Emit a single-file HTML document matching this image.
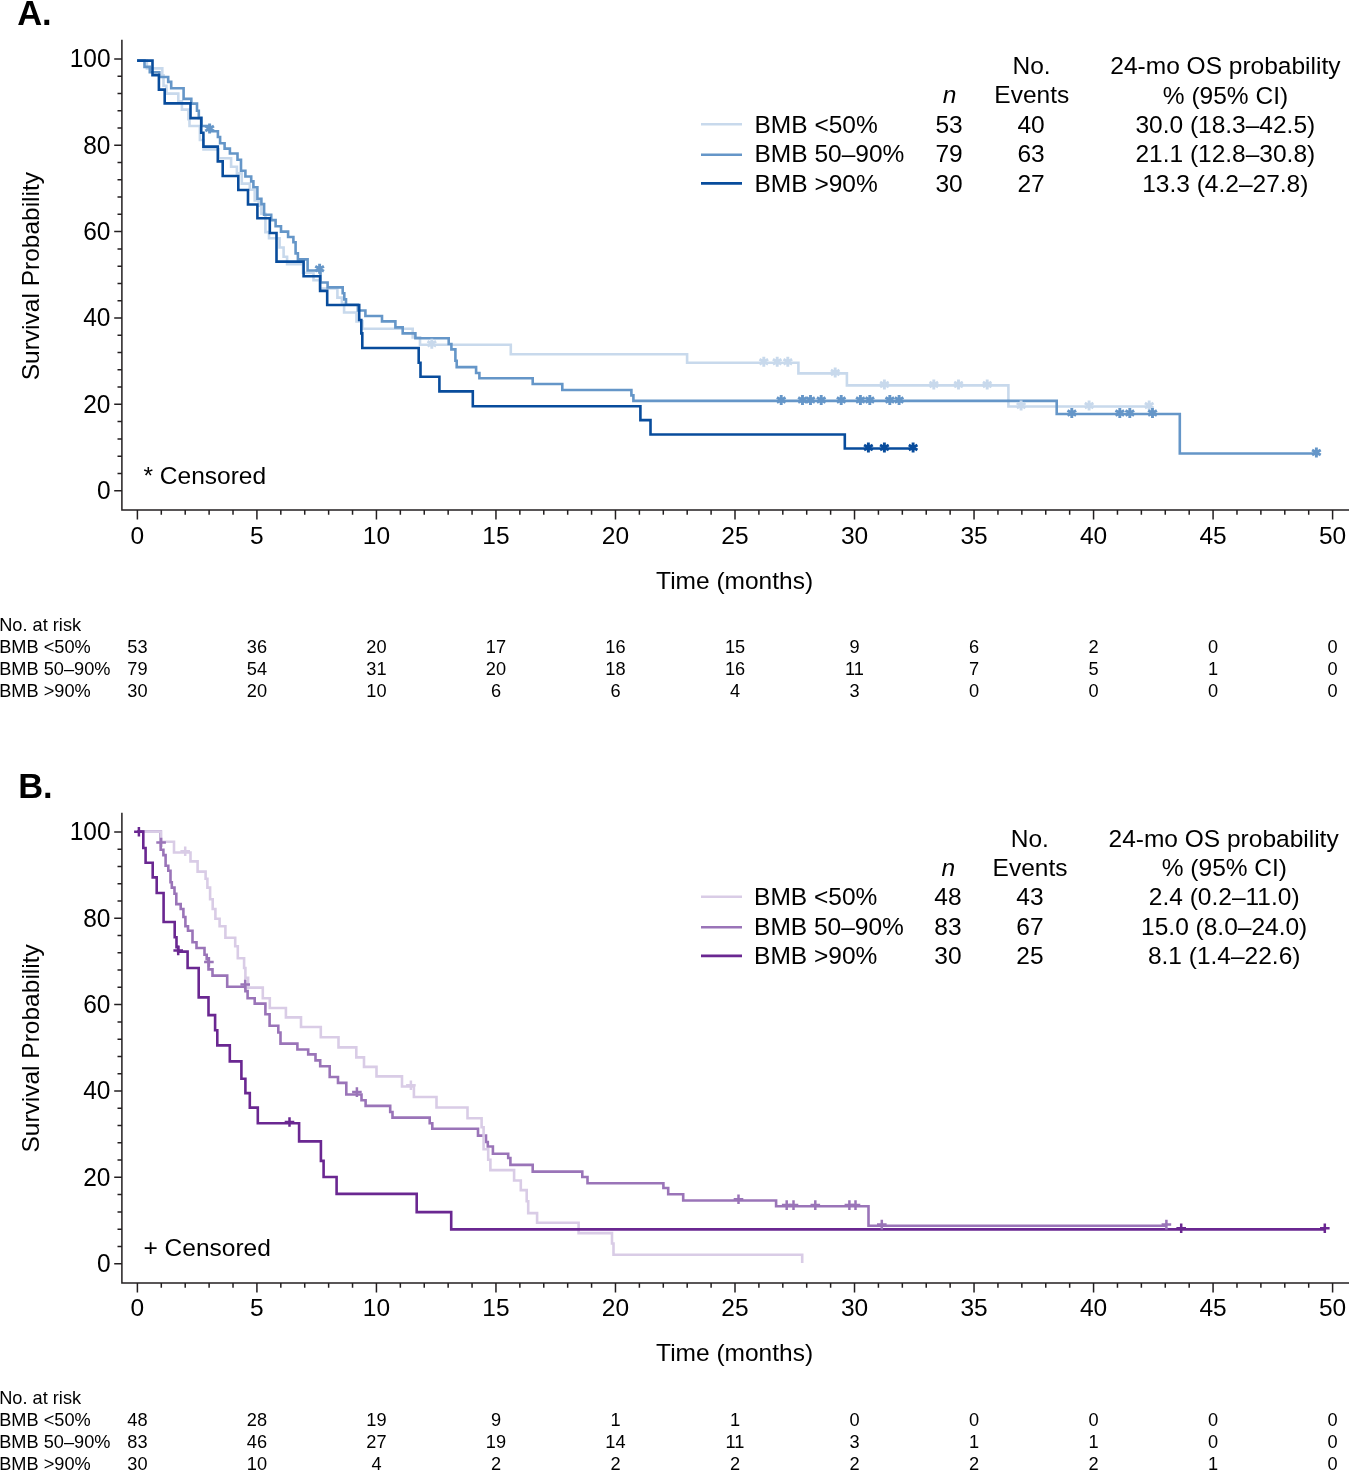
<!DOCTYPE html>
<html><head><meta charset="utf-8"><title>KM curves</title>
<style>
html,body{margin:0;padding:0;background:#fff;}
body{width:1349px;height:1471px;overflow:hidden;}
svg{display:block;will-change:transform;font-family:"Liberation Sans", sans-serif;fill:#000;}
</style></head><body>
<svg width="1349" height="1471" viewBox="0 0 1349 1471">
<rect width="1349" height="1471" fill="#fff"/>
<text x="17.2" y="24.9" font-size="34.5" text-anchor="start" font-weight="bold">A.</text>
<path d="M121.9,39.8V510H1349" stroke="#231f20" stroke-width="1.5" fill="none"/>
<path d="M114.2,490.7H122M117.5,473.43H122M117.5,456.16H122M117.5,438.88H122M117.5,421.61H122M114.2,404.34H122M117.5,387.07H122M117.5,369.8H122M117.5,352.52H122M117.5,335.25H122M114.2,317.98H122M117.5,300.71H122M117.5,283.44H122M117.5,266.16H122M117.5,248.89H122M114.2,231.62H122M117.5,214.35H122M117.5,197.08H122M117.5,179.8H122M117.5,162.53H122M114.2,145.26H122M117.5,127.99H122M117.5,110.72H122M117.5,93.44H122M117.5,76.17H122M114.2,58.9H122M137.4,510V519.5M161.3,510V514.8M185.21,510V514.8M209.11,510V514.8M233.02,510V514.8M256.92,510V519.5M280.82,510V514.8M304.73,510V514.8M328.63,510V514.8M352.54,510V514.8M376.44,510V519.5M400.34,510V514.8M424.25,510V514.8M448.15,510V514.8M472.06,510V514.8M495.96,510V519.5M519.86,510V514.8M543.77,510V514.8M567.67,510V514.8M591.58,510V514.8M615.48,510V519.5M639.38,510V514.8M663.29,510V514.8M687.19,510V514.8M711.1,510V514.8M735,510V519.5M758.9,510V514.8M782.81,510V514.8M806.71,510V514.8M830.62,510V514.8M854.52,510V519.5M878.42,510V514.8M902.33,510V514.8M926.23,510V514.8M950.14,510V514.8M974.04,510V519.5M997.94,510V514.8M1021.85,510V514.8M1045.75,510V514.8M1069.66,510V514.8M1093.56,510V519.5M1117.46,510V514.8M1141.37,510V514.8M1165.27,510V514.8M1189.18,510V514.8M1213.08,510V519.5M1236.98,510V514.8M1260.89,510V514.8M1284.79,510V514.8M1308.7,510V514.8M1332.6,510V519.5" stroke="#231f20" stroke-width="1.5" fill="none"/>
<text transform="translate(110.5,499.2) scale(1,1.09)" font-size="24.5" text-anchor="end">0</text>
<text transform="translate(110.5,412.84) scale(1,1.09)" font-size="24.5" text-anchor="end">20</text>
<text transform="translate(110.5,326.48) scale(1,1.09)" font-size="24.5" text-anchor="end">40</text>
<text transform="translate(110.5,240.12) scale(1,1.09)" font-size="24.5" text-anchor="end">60</text>
<text transform="translate(110.5,153.76) scale(1,1.09)" font-size="24.5" text-anchor="end">80</text>
<text transform="translate(110.5,67.4) scale(1,1.09)" font-size="24.5" text-anchor="end">100</text>
<text x="137.4" y="543.6" font-size="24.5" text-anchor="middle">0</text>
<text x="256.92" y="543.6" font-size="24.5" text-anchor="middle">5</text>
<text x="376.44" y="543.6" font-size="24.5" text-anchor="middle">10</text>
<text x="495.96" y="543.6" font-size="24.5" text-anchor="middle">15</text>
<text x="615.48" y="543.6" font-size="24.5" text-anchor="middle">20</text>
<text x="735" y="543.6" font-size="24.5" text-anchor="middle">25</text>
<text x="854.52" y="543.6" font-size="24.5" text-anchor="middle">30</text>
<text x="974.04" y="543.6" font-size="24.5" text-anchor="middle">35</text>
<text x="1093.56" y="543.6" font-size="24.5" text-anchor="middle">40</text>
<text x="1213.08" y="543.6" font-size="24.5" text-anchor="middle">45</text>
<text x="1332.6" y="543.6" font-size="24.5" text-anchor="middle">50</text>
<text x="734.6" y="588.8" font-size="24.5" text-anchor="middle">Time (months)</text>
<text transform="translate(38.6,276.1) rotate(-90)" font-size="24.5" text-anchor="middle">Survival Probability</text>
<text x="143.5" y="483.8" font-size="24.5" text-anchor="start">* Censored</text>
<text x="1031.6" y="74" font-size="24.5" text-anchor="middle">No.</text>
<text x="949.5" y="103.4" font-size="24.5" text-anchor="middle" font-style="italic">n</text>
<text x="1031.8" y="103.4" font-size="24.5" text-anchor="middle">Events</text>
<text x="1225.4" y="74" font-size="24.5" text-anchor="middle">24-mo OS probability</text>
<text x="1225.5" y="103.6" font-size="24.5" text-anchor="middle">% (95% CI)</text>
<path d="M701,124.3H742" stroke="#c8d9ec" stroke-width="2.6"/>
<text x="754.5" y="132.8" font-size="24.5" text-anchor="start">BMB &lt;50%</text>
<text x="949.1" y="132.8" font-size="24.5" text-anchor="middle">53</text>
<text x="1031.1" y="132.8" font-size="24.5" text-anchor="middle">40</text>
<text x="1225.3" y="132.8" font-size="24.5" text-anchor="middle">30.0 (18.3–42.5)</text>
<path d="M701,154.8H742" stroke="#6596c8" stroke-width="2.6"/>
<text x="754.5" y="162.3" font-size="24.5" text-anchor="start">BMB 50–90%</text>
<text x="949.1" y="162.3" font-size="24.5" text-anchor="middle">79</text>
<text x="1031.1" y="162.3" font-size="24.5" text-anchor="middle">63</text>
<text x="1225.3" y="162.3" font-size="24.5" text-anchor="middle">21.1 (12.8–30.8)</text>
<path d="M701,183.4H742" stroke="#084c9c" stroke-width="2.6"/>
<text x="754.5" y="191.6" font-size="24.5" text-anchor="start">BMB &gt;90%</text>
<text x="949.1" y="191.6" font-size="24.5" text-anchor="middle">30</text>
<text x="1031.1" y="191.6" font-size="24.5" text-anchor="middle">27</text>
<text x="1225.3" y="191.6" font-size="24.5" text-anchor="middle">13.3 (4.2–27.8)</text>
<path d="M137.1,60.6 H146.9 V68.4 H162.3 V75.2 H163.5 V85.8 H166.4 V93.6 H178.3 V101.3 H181.9 V109.6 H188.4 V119.1 H189.5 V126.0 H199.9 V140 H203.5 V149.4 H218.5 V158.2 H231.1 V166.7 H236.9 V173.4 H241.8 V183.6 H249.8 V189.8 H254.7 V200.5 H258.7 V205.8 H261.4 V213.8 H265.4 V232.1 H269 V238.3 H279.6 V247.5 H283.6 V256.7 H287.1 V264.3 H303 V272.7 H313.5 V280.3 H320 V288.5 H337.4 V297.6 H341.9 V303.8 H344.1 V312.5 H356.5 V321.4 H362.5 V328.7 H412.7 V337.4 H420 V344.7 H510.8 V354.2 H687.1 V362.7 H798.4 V373.4 H846.9 V385.4 H1008.4 V406.5 H1150" stroke="#c8d9ec" stroke-width="2.6" fill="none" stroke-linejoin="miter" stroke-linecap="butt"/>
<path d="M137.1,60.6 H144.5 V66.9 H149.8 V72.2 H159.3 V77.0 H168.2 V81.9 H171.2 V88.2 H183.6 V98.9 H191.3 V103.6 H197.0 V110.8 H198.8 V117.9 H201.5 V126.0 H209.9 V131.2 H217.9 V137.0 H220.1 V143.3 H224.6 V148.6 H229.9 V153.5 H237.5 V159.7 H241.0 V170.7 H245.4 V176.5 H251.2 V181.4 H253.4 V187.2 H257.4 V198.7 H261.4 V204.1 H264.1 V214.7 H271.2 V220.1 H275.6 V226.3 H281.0 V231.6 H288.1 V237.0 H293.4 V242.3 H295.6 V253.4 H297.9 V259.4 H307.6 V270.5 H320.5 V282.5 H327.6 V287.4 H342.7 V293.2 H344.3 V299.4 H346.0 V304.7 H357.9 V310.5 H365.4 V316.0 H382.0 V321.4 H395.4 V327.4 H402.7 V333.4 H415.4 V338.3 H448.7 V344.0 H451.4 V349.4 H455.4 V360.7 H456.7 V367.1 H476.1 V373.0 H479.4 V378.3 H532.7 V384.0 H562.3 V390.0 H631.4 V395.4 H633.4 V400.9 H1056.7 V414.0 H1179.8 V453.5 H1316" stroke="#6596c8" stroke-width="2.6" fill="none" stroke-linejoin="miter" stroke-linecap="butt"/>
<path d="M137.1,60.6 H152.5 V75.1 H158.9 V89.6 H164.7 V103.4 H190.5 V118.1 H201.2 V132.7 H203.4 V146.6 H217.8 V161.4 H222.7 V176.0 H238.3 V190.0 H248.0 V204.5 H257.4 V218.3 H269.8 V233.0 H276.5 V261.6 H303.6 V276.3 H320.1 V290.9 H327.2 V305.0 H359.2 V320.0 H361.3 V333.4 H362.3 V348.0 H418.7 V362.7 H420.5 V376.7 H439.4 V391.4 H472.8 V406.2 H640.4 V420.1 H650.5 V434.5 H844.8 V448.5 H912.7" stroke="#084c9c" stroke-width="2.6" fill="none" stroke-linejoin="miter" stroke-linecap="butt"/>
<path d="M431.8,338.7L431.8,348.7M427.47,341.2L436.13,346.2M436.13,341.2L427.47,346.2" stroke="#c8d9ec" stroke-width="2.9" fill="none"/>
<path d="M763.8,356.7L763.8,366.7M759.47,359.2L768.13,364.2M768.13,359.2L759.47,364.2" stroke="#c8d9ec" stroke-width="2.9" fill="none"/>
<path d="M777.2,356.7L777.2,366.7M772.87,359.2L781.53,364.2M781.53,359.2L772.87,364.2" stroke="#c8d9ec" stroke-width="2.9" fill="none"/>
<path d="M787.8,356.7L787.8,366.7M783.47,359.2L792.13,364.2M792.13,359.2L783.47,364.2" stroke="#c8d9ec" stroke-width="2.9" fill="none"/>
<path d="M835.2,367.4L835.2,377.4M830.87,369.9L839.53,374.9M839.53,369.9L830.87,374.9" stroke="#c8d9ec" stroke-width="2.9" fill="none"/>
<path d="M884.4,379.4L884.4,389.4M880.07,381.9L888.73,386.9M888.73,381.9L880.07,386.9" stroke="#c8d9ec" stroke-width="2.9" fill="none"/>
<path d="M933.8,379.4L933.8,389.4M929.47,381.9L938.13,386.9M938.13,381.9L929.47,386.9" stroke="#c8d9ec" stroke-width="2.9" fill="none"/>
<path d="M958.5,379.4L958.5,389.4M954.17,381.9L962.83,386.9M962.83,381.9L954.17,386.9" stroke="#c8d9ec" stroke-width="2.9" fill="none"/>
<path d="M987.2,379.4L987.2,389.4M982.87,381.9L991.53,386.9M991.53,381.9L982.87,386.9" stroke="#c8d9ec" stroke-width="2.9" fill="none"/>
<path d="M1021.1,400.5L1021.1,410.5M1016.77,403L1025.43,408M1025.43,403L1016.77,408" stroke="#c8d9ec" stroke-width="2.9" fill="none"/>
<path d="M1089.1,400.5L1089.1,410.5M1084.77,403L1093.43,408M1093.43,403L1084.77,408" stroke="#c8d9ec" stroke-width="2.9" fill="none"/>
<path d="M1149.2,400.5L1149.2,410.5M1144.87,403L1153.53,408M1153.53,403L1144.87,408" stroke="#c8d9ec" stroke-width="2.9" fill="none"/>
<path d="M209.6,123.5L209.6,133.5M205.27,126L213.93,131M213.93,126L205.27,131" stroke="#6596c8" stroke-width="2.9" fill="none"/>
<path d="M319.6,263.8L319.6,273.8M315.27,266.3L323.93,271.3M323.93,266.3L315.27,271.3" stroke="#6596c8" stroke-width="2.9" fill="none"/>
<path d="M781.2,394.9L781.2,404.9M776.87,397.4L785.53,402.4M785.53,397.4L776.87,402.4" stroke="#6596c8" stroke-width="2.9" fill="none"/>
<path d="M802.5,394.9L802.5,404.9M798.17,397.4L806.83,402.4M806.83,397.4L798.17,402.4" stroke="#6596c8" stroke-width="2.9" fill="none"/>
<path d="M810.5,394.9L810.5,404.9M806.17,397.4L814.83,402.4M814.83,397.4L806.17,402.4" stroke="#6596c8" stroke-width="2.9" fill="none"/>
<path d="M821.2,394.9L821.2,404.9M816.87,397.4L825.53,402.4M825.53,397.4L816.87,402.4" stroke="#6596c8" stroke-width="2.9" fill="none"/>
<path d="M841.2,394.9L841.2,404.9M836.87,397.4L845.53,402.4M845.53,397.4L836.87,402.4" stroke="#6596c8" stroke-width="2.9" fill="none"/>
<path d="M860.4,394.9L860.4,404.9M856.07,397.4L864.73,402.4M864.73,397.4L856.07,402.4" stroke="#6596c8" stroke-width="2.9" fill="none"/>
<path d="M869.8,394.9L869.8,404.9M865.47,397.4L874.13,402.4M874.13,397.4L865.47,402.4" stroke="#6596c8" stroke-width="2.9" fill="none"/>
<path d="M889.8,394.9L889.8,404.9M885.47,397.4L894.13,402.4M894.13,397.4L885.47,402.4" stroke="#6596c8" stroke-width="2.9" fill="none"/>
<path d="M899.1,394.9L899.1,404.9M894.77,397.4L903.43,402.4M903.43,397.4L894.77,402.4" stroke="#6596c8" stroke-width="2.9" fill="none"/>
<path d="M1071.8,408L1071.8,418M1067.47,410.5L1076.13,415.5M1076.13,410.5L1067.47,415.5" stroke="#6596c8" stroke-width="2.9" fill="none"/>
<path d="M1119.8,408L1119.8,418M1115.47,410.5L1124.13,415.5M1124.13,410.5L1115.47,415.5" stroke="#6596c8" stroke-width="2.9" fill="none"/>
<path d="M1129.8,408L1129.8,418M1125.47,410.5L1134.13,415.5M1134.13,410.5L1125.47,415.5" stroke="#6596c8" stroke-width="2.9" fill="none"/>
<path d="M1152.5,408L1152.5,418M1148.17,410.5L1156.83,415.5M1156.83,410.5L1148.17,415.5" stroke="#6596c8" stroke-width="2.9" fill="none"/>
<path d="M1316.4,447.5L1316.4,457.5M1312.07,450L1320.73,455M1320.73,450L1312.07,455" stroke="#6596c8" stroke-width="2.9" fill="none"/>
<path d="M868.4,442.5L868.4,452.5M864.07,445L872.73,450M872.73,445L864.07,450" stroke="#084c9c" stroke-width="2.9" fill="none"/>
<path d="M884.4,442.5L884.4,452.5M880.07,445L888.73,450M888.73,445L880.07,450" stroke="#084c9c" stroke-width="2.9" fill="none"/>
<path d="M913.1,442.5L913.1,452.5M908.77,445L917.43,450M917.43,445L908.77,450" stroke="#084c9c" stroke-width="2.9" fill="none"/>
<text x="-0.8" y="630.8" font-size="18.2" text-anchor="start">No. at risk</text>
<text x="-0.8" y="652.6" font-size="18.2" text-anchor="start">BMB &lt;50%</text>
<text x="137.4" y="652.6" font-size="18.2" text-anchor="middle">53</text>
<text x="256.92" y="652.6" font-size="18.2" text-anchor="middle">36</text>
<text x="376.44" y="652.6" font-size="18.2" text-anchor="middle">20</text>
<text x="495.96" y="652.6" font-size="18.2" text-anchor="middle">17</text>
<text x="615.48" y="652.6" font-size="18.2" text-anchor="middle">16</text>
<text x="735" y="652.6" font-size="18.2" text-anchor="middle">15</text>
<text x="854.52" y="652.6" font-size="18.2" text-anchor="middle">9</text>
<text x="974.04" y="652.6" font-size="18.2" text-anchor="middle">6</text>
<text x="1093.56" y="652.6" font-size="18.2" text-anchor="middle">2</text>
<text x="1213.08" y="652.6" font-size="18.2" text-anchor="middle">0</text>
<text x="1332.6" y="652.6" font-size="18.2" text-anchor="middle">0</text>
<text x="-0.8" y="674.9" font-size="18.2" text-anchor="start">BMB 50–90%</text>
<text x="137.4" y="674.9" font-size="18.2" text-anchor="middle">79</text>
<text x="256.92" y="674.9" font-size="18.2" text-anchor="middle">54</text>
<text x="376.44" y="674.9" font-size="18.2" text-anchor="middle">31</text>
<text x="495.96" y="674.9" font-size="18.2" text-anchor="middle">20</text>
<text x="615.48" y="674.9" font-size="18.2" text-anchor="middle">18</text>
<text x="735" y="674.9" font-size="18.2" text-anchor="middle">16</text>
<text x="854.52" y="674.9" font-size="18.2" text-anchor="middle">11</text>
<text x="974.04" y="674.9" font-size="18.2" text-anchor="middle">7</text>
<text x="1093.56" y="674.9" font-size="18.2" text-anchor="middle">5</text>
<text x="1213.08" y="674.9" font-size="18.2" text-anchor="middle">1</text>
<text x="1332.6" y="674.9" font-size="18.2" text-anchor="middle">0</text>
<text x="-0.8" y="697.1" font-size="18.2" text-anchor="start">BMB &gt;90%</text>
<text x="137.4" y="697.1" font-size="18.2" text-anchor="middle">30</text>
<text x="256.92" y="697.1" font-size="18.2" text-anchor="middle">20</text>
<text x="376.44" y="697.1" font-size="18.2" text-anchor="middle">10</text>
<text x="495.96" y="697.1" font-size="18.2" text-anchor="middle">6</text>
<text x="615.48" y="697.1" font-size="18.2" text-anchor="middle">6</text>
<text x="735" y="697.1" font-size="18.2" text-anchor="middle">4</text>
<text x="854.52" y="697.1" font-size="18.2" text-anchor="middle">3</text>
<text x="974.04" y="697.1" font-size="18.2" text-anchor="middle">0</text>
<text x="1093.56" y="697.1" font-size="18.2" text-anchor="middle">0</text>
<text x="1213.08" y="697.1" font-size="18.2" text-anchor="middle">0</text>
<text x="1332.6" y="697.1" font-size="18.2" text-anchor="middle">0</text>
<text x="18.2" y="797.5" font-size="34.5" text-anchor="start" font-weight="bold">B.</text>
<path d="M121.9,812.8V1283H1349" stroke="#231f20" stroke-width="1.5" fill="none"/>
<path d="M114.2,1263.7H122M117.5,1246.43H122M117.5,1229.16H122M117.5,1211.88H122M117.5,1194.61H122M114.2,1177.34H122M117.5,1160.07H122M117.5,1142.8H122M117.5,1125.52H122M117.5,1108.25H122M114.2,1090.98H122M117.5,1073.71H122M117.5,1056.44H122M117.5,1039.16H122M117.5,1021.89H122M114.2,1004.62H122M117.5,987.35H122M117.5,970.08H122M117.5,952.8H122M117.5,935.53H122M114.2,918.26H122M117.5,900.99H122M117.5,883.72H122M117.5,866.44H122M117.5,849.17H122M114.2,831.9H122M137.4,1283V1292.5M161.3,1283V1287.8M185.21,1283V1287.8M209.11,1283V1287.8M233.02,1283V1287.8M256.92,1283V1292.5M280.82,1283V1287.8M304.73,1283V1287.8M328.63,1283V1287.8M352.54,1283V1287.8M376.44,1283V1292.5M400.34,1283V1287.8M424.25,1283V1287.8M448.15,1283V1287.8M472.06,1283V1287.8M495.96,1283V1292.5M519.86,1283V1287.8M543.77,1283V1287.8M567.67,1283V1287.8M591.58,1283V1287.8M615.48,1283V1292.5M639.38,1283V1287.8M663.29,1283V1287.8M687.19,1283V1287.8M711.1,1283V1287.8M735,1283V1292.5M758.9,1283V1287.8M782.81,1283V1287.8M806.71,1283V1287.8M830.62,1283V1287.8M854.52,1283V1292.5M878.42,1283V1287.8M902.33,1283V1287.8M926.23,1283V1287.8M950.14,1283V1287.8M974.04,1283V1292.5M997.94,1283V1287.8M1021.85,1283V1287.8M1045.75,1283V1287.8M1069.66,1283V1287.8M1093.56,1283V1292.5M1117.46,1283V1287.8M1141.37,1283V1287.8M1165.27,1283V1287.8M1189.18,1283V1287.8M1213.08,1283V1292.5M1236.98,1283V1287.8M1260.89,1283V1287.8M1284.79,1283V1287.8M1308.7,1283V1287.8M1332.6,1283V1292.5" stroke="#231f20" stroke-width="1.5" fill="none"/>
<text transform="translate(110.5,1272.2) scale(1,1.09)" font-size="24.5" text-anchor="end">0</text>
<text transform="translate(110.5,1185.84) scale(1,1.09)" font-size="24.5" text-anchor="end">20</text>
<text transform="translate(110.5,1099.48) scale(1,1.09)" font-size="24.5" text-anchor="end">40</text>
<text transform="translate(110.5,1013.12) scale(1,1.09)" font-size="24.5" text-anchor="end">60</text>
<text transform="translate(110.5,926.76) scale(1,1.09)" font-size="24.5" text-anchor="end">80</text>
<text transform="translate(110.5,840.4) scale(1,1.09)" font-size="24.5" text-anchor="end">100</text>
<text x="137.4" y="1316.1" font-size="24.5" text-anchor="middle">0</text>
<text x="256.92" y="1316.1" font-size="24.5" text-anchor="middle">5</text>
<text x="376.44" y="1316.1" font-size="24.5" text-anchor="middle">10</text>
<text x="495.96" y="1316.1" font-size="24.5" text-anchor="middle">15</text>
<text x="615.48" y="1316.1" font-size="24.5" text-anchor="middle">20</text>
<text x="735" y="1316.1" font-size="24.5" text-anchor="middle">25</text>
<text x="854.52" y="1316.1" font-size="24.5" text-anchor="middle">30</text>
<text x="974.04" y="1316.1" font-size="24.5" text-anchor="middle">35</text>
<text x="1093.56" y="1316.1" font-size="24.5" text-anchor="middle">40</text>
<text x="1213.08" y="1316.1" font-size="24.5" text-anchor="middle">45</text>
<text x="1332.6" y="1316.1" font-size="24.5" text-anchor="middle">50</text>
<text x="734.6" y="1360.6" font-size="24.5" text-anchor="middle">Time (months)</text>
<text transform="translate(38.6,1048.4) rotate(-90)" font-size="24.5" text-anchor="middle">Survival Probability</text>
<text x="143.5" y="1255.5" font-size="24.5" text-anchor="start">+ Censored</text>
<text x="1029.8" y="846.5" font-size="24.5" text-anchor="middle">No.</text>
<text x="948.4" y="875.9" font-size="24.5" text-anchor="middle" font-style="italic">n</text>
<text x="1030" y="875.9" font-size="24.5" text-anchor="middle">Events</text>
<text x="1223.6" y="846.5" font-size="24.5" text-anchor="middle">24-mo OS probability</text>
<text x="1224.4" y="876.1" font-size="24.5" text-anchor="middle">% (95% CI)</text>
<path d="M701,896.8H742" stroke="#d9cce6" stroke-width="2.6"/>
<text x="754.1" y="905.3" font-size="24.5" text-anchor="start">BMB &lt;50%</text>
<text x="948" y="905.3" font-size="24.5" text-anchor="middle">48</text>
<text x="1030" y="905.3" font-size="24.5" text-anchor="middle">43</text>
<text x="1224.2" y="905.3" font-size="24.5" text-anchor="middle">2.4 (0.2–11.0)</text>
<path d="M701,927.3H742" stroke="#9a74b8" stroke-width="2.6"/>
<text x="754.1" y="934.8" font-size="24.5" text-anchor="start">BMB 50–90%</text>
<text x="948" y="934.8" font-size="24.5" text-anchor="middle">83</text>
<text x="1030" y="934.8" font-size="24.5" text-anchor="middle">67</text>
<text x="1224.2" y="934.8" font-size="24.5" text-anchor="middle">15.0 (8.0–24.0)</text>
<path d="M701,955.9H742" stroke="#6a2791" stroke-width="2.6"/>
<text x="754.1" y="964.1" font-size="24.5" text-anchor="start">BMB &gt;90%</text>
<text x="948" y="964.1" font-size="24.5" text-anchor="middle">30</text>
<text x="1030" y="964.1" font-size="24.5" text-anchor="middle">25</text>
<text x="1224.2" y="964.1" font-size="24.5" text-anchor="middle">8.1 (1.4–22.6)</text>
<path d="M137.4,831.6 H160.7 V849.8 H163.4 V855.1 H165.6 V865.8 H168.3 V870.7 H170.5 V882.3 H171.8 V887.6 H174.5 V893.8 H176.3 V904.1 H180.7 V909.0 H183.4 V917.0 H185.4 V926.2 H188.0 V930.7 H192.5 V942.2 H196.5 V948.0 H204.5 V954.7 H206.7 V959.1 H208.5 V969.4 H212.5 V975.6 H227.2 V986.7 H245.4 V991.1 H247.6 V998.2 H254.7 V1003.6 H265.4 V1014.3 H269.6 V1025.8 H278.3 V1032.5 H280.5 V1043.6 H297.4 V1049.5 H308.2 V1054.4 H315.5 V1060.4 H320.2 V1066.3 H329.7 V1077.0 H338.0 V1082.9 H346.3 V1094.5 H361.5 V1100.2 H365.6 V1105.9 H390.2 V1112.0 H392.5 V1117.6 H429.7 V1123.3 H432.3 V1128.8 H478.0 V1135.6 H486.0 V1142.0 H487.8 V1146.5 H492.9 V1153.8 H508.2 V1158 H510.4 V1164.9 H532.7 V1171.6 H582.3 V1177 H587.5 V1183.2 H663.4 V1188 H668.2 V1194.3 H683.2 V1200.5 H776.1 V1206.3 H868.5 V1225.8 H1166.4" stroke="#9a74b8" stroke-width="2.6" fill="none" stroke-linejoin="miter" stroke-linecap="butt"/>
<path d="M137.4,831.6 H161.1 V841.8 H174.0 V852.5 H190.5 V861.4 H197.6 V871.6 H205.6 V878.7 H207.4 V887.6 H210.1 V899.2 H212.7 V909.0 H215.4 V918.8 H219.6 V926.2 H225.4 V937.8 H235.2 V946.2 H237.8 V958.3 H244.1 V968.0 H245.4 V977.8 H248.1 V987.6 H262.8 V998.2 H269.8 V1008.0 H285.9 V1017.4 H301.0 V1027.0 H320.8 V1037.3 H338.5 V1047.4 H356.3 V1057.4 H364.0 V1066.9 H376.5 V1076.4 H402.0 V1086.5 H413.9 V1097.0 H436.5 V1107.5 H467.5 V1118.2 H481.6 V1127.3 H483.6 V1149.3 H488.2 V1159.7 H490.4 V1170.1 H514.1 V1180.5 H520.8 V1190.1 H526.7 V1201.2 H528.2 V1213.1 H537.1 V1222.7 H578.6 V1233.1 H612.0 V1243.5 H613.5 V1254.7 H802.2 V1263" stroke="#d9cce6" stroke-width="2.6" fill="none" stroke-linejoin="miter" stroke-linecap="butt"/>
<path d="M137.4,831.6 H143.3 V848.0 H145.6 V862.7 H152.7 V877.4 H156.7 V893.0 H163.6 V922.0 H174.7 V937.3 H176.5 V947.1 H178.2 V951.6 H187.6 V968.0 H198.7 V997.4 H208.5 V1015.1 H215.1 V1030.3 H217.3 V1045.4 H229.8 V1061.4 H241.4 V1078.8 H245.4 V1093.1 H249.8 V1107.6 H257.8 V1123.2 H299.1 V1141.4 H320.9 V1160.9 H323.6 V1177.0 H336.6 V1193.9 H416.7 V1212.1 H451.2 V1229.4 H1324.8" stroke="#6a2791" stroke-width="2.6" fill="none" stroke-linejoin="miter" stroke-linecap="butt"/>
<path d="M180.4,851.3H190M185.2,846.5V856.1" stroke="#d9cce6" stroke-width="2.5" fill="none"/>
<path d="M406.1,1085.3H415.7M410.9,1080.5V1090.1" stroke="#d9cce6" stroke-width="2.5" fill="none"/>
<path d="M156.3,842.5H165.9M161.1,837.7V847.3" stroke="#9a74b8" stroke-width="2.5" fill="none"/>
<path d="M204.1,961.9H213.7M208.9,957.1V966.7" stroke="#9a74b8" stroke-width="2.5" fill="none"/>
<path d="M240.4,984.4H250M245.2,979.6V989.2" stroke="#9a74b8" stroke-width="2.5" fill="none"/>
<path d="M352.1,1092.1H361.7M356.9,1087.3V1096.9" stroke="#9a74b8" stroke-width="2.5" fill="none"/>
<path d="M733.7,1199.3H743.3M738.5,1194.5V1204.1" stroke="#9a74b8" stroke-width="2.5" fill="none"/>
<path d="M781.9,1205.1H791.5M786.7,1200.3V1209.9" stroke="#9a74b8" stroke-width="2.5" fill="none"/>
<path d="M788.7,1205.1H798.3M793.5,1200.3V1209.9" stroke="#9a74b8" stroke-width="2.5" fill="none"/>
<path d="M810.5,1205.1H820.1M815.3,1200.3V1209.9" stroke="#9a74b8" stroke-width="2.5" fill="none"/>
<path d="M844.6,1205.1H854.2M849.4,1200.3V1209.9" stroke="#9a74b8" stroke-width="2.5" fill="none"/>
<path d="M850.7,1205.1H860.3M855.5,1200.3V1209.9" stroke="#9a74b8" stroke-width="2.5" fill="none"/>
<path d="M877,1224.6H886.6M881.8,1219.8V1229.4" stroke="#9a74b8" stroke-width="2.5" fill="none"/>
<path d="M1161.6,1224.6H1171.2M1166.4,1219.8V1229.4" stroke="#9a74b8" stroke-width="2.5" fill="none"/>
<path d="M134.1,831.8H143.7M138.9,827V836.6" stroke="#6a2791" stroke-width="2.5" fill="none"/>
<path d="M173.4,950.4H183M178.2,945.6V955.2" stroke="#6a2791" stroke-width="2.5" fill="none"/>
<path d="M284.7,1122H294.3M289.5,1117.2V1126.8" stroke="#6a2791" stroke-width="2.5" fill="none"/>
<path d="M1176.4,1228.2H1186M1181.2,1223.4V1233" stroke="#6a2791" stroke-width="2.5" fill="none"/>
<path d="M1320,1228.2H1329.6M1324.8,1223.4V1233" stroke="#6a2791" stroke-width="2.5" fill="none"/>
<text x="-0.8" y="1403.8" font-size="18.2" text-anchor="start">No. at risk</text>
<text x="-0.8" y="1425.6" font-size="18.2" text-anchor="start">BMB &lt;50%</text>
<text x="137.4" y="1425.6" font-size="18.2" text-anchor="middle">48</text>
<text x="256.92" y="1425.6" font-size="18.2" text-anchor="middle">28</text>
<text x="376.44" y="1425.6" font-size="18.2" text-anchor="middle">19</text>
<text x="495.96" y="1425.6" font-size="18.2" text-anchor="middle">9</text>
<text x="615.48" y="1425.6" font-size="18.2" text-anchor="middle">1</text>
<text x="735" y="1425.6" font-size="18.2" text-anchor="middle">1</text>
<text x="854.52" y="1425.6" font-size="18.2" text-anchor="middle">0</text>
<text x="974.04" y="1425.6" font-size="18.2" text-anchor="middle">0</text>
<text x="1093.56" y="1425.6" font-size="18.2" text-anchor="middle">0</text>
<text x="1213.08" y="1425.6" font-size="18.2" text-anchor="middle">0</text>
<text x="1332.6" y="1425.6" font-size="18.2" text-anchor="middle">0</text>
<text x="-0.8" y="1447.9" font-size="18.2" text-anchor="start">BMB 50–90%</text>
<text x="137.4" y="1447.9" font-size="18.2" text-anchor="middle">83</text>
<text x="256.92" y="1447.9" font-size="18.2" text-anchor="middle">46</text>
<text x="376.44" y="1447.9" font-size="18.2" text-anchor="middle">27</text>
<text x="495.96" y="1447.9" font-size="18.2" text-anchor="middle">19</text>
<text x="615.48" y="1447.9" font-size="18.2" text-anchor="middle">14</text>
<text x="735" y="1447.9" font-size="18.2" text-anchor="middle">11</text>
<text x="854.52" y="1447.9" font-size="18.2" text-anchor="middle">3</text>
<text x="974.04" y="1447.9" font-size="18.2" text-anchor="middle">1</text>
<text x="1093.56" y="1447.9" font-size="18.2" text-anchor="middle">1</text>
<text x="1213.08" y="1447.9" font-size="18.2" text-anchor="middle">0</text>
<text x="1332.6" y="1447.9" font-size="18.2" text-anchor="middle">0</text>
<text x="-0.8" y="1470.1" font-size="18.2" text-anchor="start">BMB &gt;90%</text>
<text x="137.4" y="1470.1" font-size="18.2" text-anchor="middle">30</text>
<text x="256.92" y="1470.1" font-size="18.2" text-anchor="middle">10</text>
<text x="376.44" y="1470.1" font-size="18.2" text-anchor="middle">4</text>
<text x="495.96" y="1470.1" font-size="18.2" text-anchor="middle">2</text>
<text x="615.48" y="1470.1" font-size="18.2" text-anchor="middle">2</text>
<text x="735" y="1470.1" font-size="18.2" text-anchor="middle">2</text>
<text x="854.52" y="1470.1" font-size="18.2" text-anchor="middle">2</text>
<text x="974.04" y="1470.1" font-size="18.2" text-anchor="middle">2</text>
<text x="1093.56" y="1470.1" font-size="18.2" text-anchor="middle">2</text>
<text x="1213.08" y="1470.1" font-size="18.2" text-anchor="middle">1</text>
<text x="1332.6" y="1470.1" font-size="18.2" text-anchor="middle">0</text>
</svg>
</body></html>
